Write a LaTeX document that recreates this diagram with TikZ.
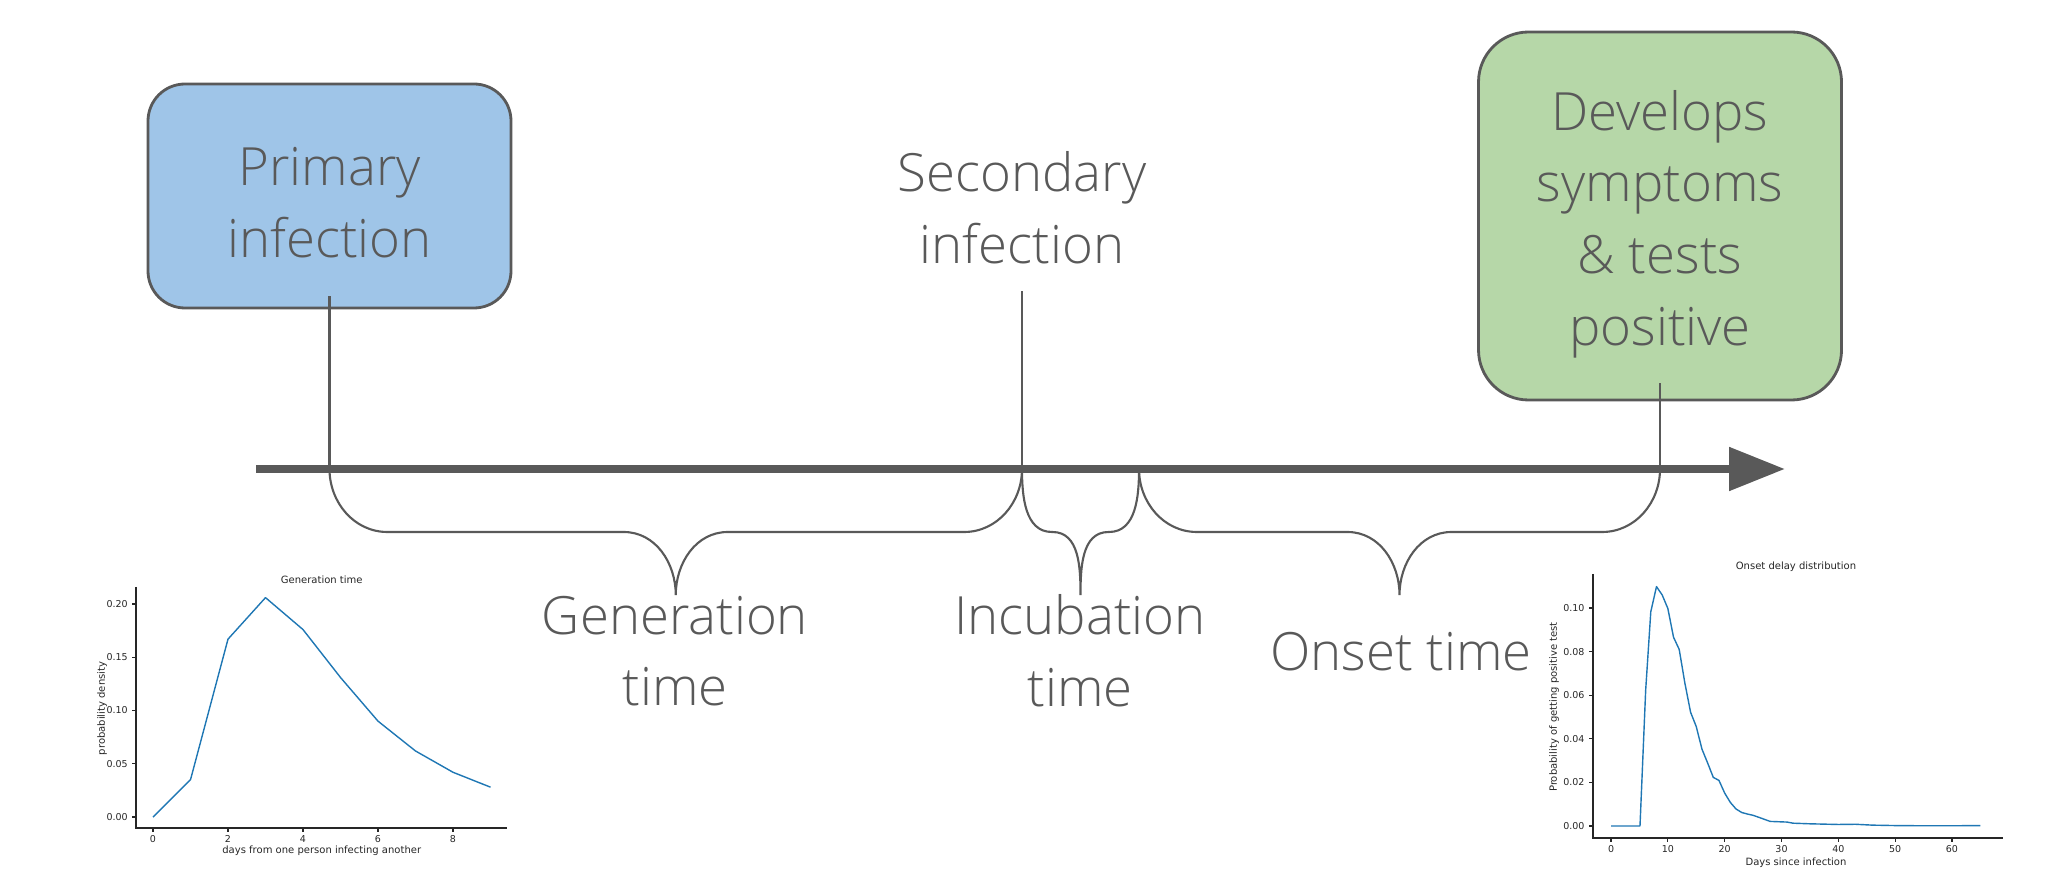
\documentclass[tikz,border=0pt]{standalone}
\usepackage{fontspec}
\IfFontExistsTF{Open Sans Light}{\setmainfont{Open Sans Light}}{\setmainfont{Open Sans}}
\newfontfamily\plotfont{DejaVu Sans}
\usepackage{tikz}
\usetikzlibrary{arrows.meta, positioning, calc}

\definecolor{txtgray}{HTML}{595959}
\definecolor{boxblue}{HTML}{9FC5E8}
\definecolor{boxgreen}{HTML}{B6D7A8}
\definecolor{mplblue}{HTML}{1F77B4}
\definecolor{spinegray}{HTML}{262626}

% curly brace under the time line, tip half way between start and end
\newcommand{\timebrace}[4]{%
  \draw[curly] (#1) to[out=-90,in=180] ($(#1)+(#3,-0.63)$)
    -- ($(#1)!0.5!(#2)+(-#4,-0.63)$) to[out=0,in=90] ($(#1)!0.5!(#2)+(0,-1.26)$)
    to[out=90,in=180] ($(#1)!0.5!(#2)+(#4,-0.63)$)
    -- ($(#2)+(-#3,-0.63)$) to[out=0,in=-90] (#2);
}

\begin{document}
\begin{tikzpicture}[
    big/.style={font=\fontsize{15}{20.4}\selectfont, text=txtgray, align=center, inner sep=0pt},
    event/.style={draw=txtgray, line width=0.8pt, rounded corners=0.37cm, minimum width=3.63cm},
    vline/.style={draw=txtgray, line width=0.6pt},
    curly/.style={draw=txtgray, line width=0.6pt},
    spine/.style={draw=spinegray, line width=0.4pt},
    tickln/.style={draw=spinegray, line width=0.35pt},
    ticklbl/.style={font=\plotfont\fontsize{2.7}{3.2}\selectfont, text=spinegray, inner sep=0pt},
    plotlbl/.style={font=\plotfont\fontsize{2.85}{3.4}\selectfont, text=spinegray, inner sep=0pt},
    densline/.style={draw=mplblue, line width=0.4pt, line join=round},
  ]
  \useasboundingbox (0,0) rectangle (20.62,-8.90);

  % Events
  \node[event, fill=boxblue, minimum height=2.24cm] (prim) at (3.295,-1.96) {};
  \node[big] (primtxt) at ([yshift=-0.07cm]prim.center) {Primary\\infection};
  \node[event, fill=boxgreen, minimum height=3.68cm, rounded corners=0.5cm] (sympt) at (16.60,-2.16) {};
  \node[big] (sympttxt) at ([yshift=-0.08cm]sympt.center) {Develops\\symptoms\\\& tests\\positive};
  \node[big] (sec) at (10.22,-2.075) {Secondary\\infection};

  % Time line
  \coordinate (tstart) at (2.56,-4.69);
  \coordinate (tend) at (17.85,-4.69);
  \coordinate (tprim) at (prim.south |- tstart);
  \coordinate (tsec) at (sec.south |- tstart);
  \coordinate (tinc) at (11.39,-4.69);
  \coordinate (tsympt) at (sympt.south |- tstart);

  % Ticks from the events
  \draw[vline] ([yshift=0.13cm]prim.south) -- (tprim);
  \draw[vline] ([yshift=-0.27cm]sec.south) -- (tsec);
  \draw[vline] ([yshift=0.18cm]sympt.south) -- (tsympt);

  % Braces
  \timebrace{tprim}{tsec}{0.58}{0.52}
  \timebrace{tsec}{tinc}{0.30}{0.28}
  \timebrace{tinc}{tsympt}{0.58}{0.52}

  \draw[txtgray, line width=2.4pt, -{Triangle[length=5.6mm, width=4.2mm]}] (tstart) -- (tend);

  % Period labels
  \node[big] (gen) at (6.75,-6.51) {Generation\\time};
  \node[big] (inc) at (10.80,-6.51) {Incubation\\time};
  \node[big] (ons) at (14.01,-6.52) {Onset time};

  % Generation time plot
  \begin{scope}[shift={(1.53,-8.17)}, x=0.375cm, y=10.65cm]
    \draw[spine] (-0.45,0.216) -- (-0.45,-0.0103) -- (9.44,-0.0103);
    \foreach \i in {0,2,...,8} {
      \draw[tickln] (\i,-0.0103) -- ++(0,-0.0035) node[ticklbl, below=0.03cm] (gx\i) {\i};
    }
    \foreach \v/\l [count=\i] in {0/0.00, 0.05/0.05, 0.1/0.10, 0.15/0.15, 0.2/0.20} {
      \draw[tickln] (-0.45,\v) -- ++(-0.1,0) node[ticklbl, left=0.04cm] (gy\i) {\l};
    }
    \draw[densline] plot coordinates {(0,0) (1,0.035) (2,0.167) (3,0.206) (4,0.176)
      (5,0.131) (6,0.090) (7,0.062) (8,0.042) (9,0.028)};
    \node[plotlbl] (gtitle) at (4.5,0.2225) {Generation time};
    \node[plotlbl] (gxlab) at (4.5,-0.032) {days from one person infecting another};
    \node[plotlbl, rotate=90] (gylab) at (-1.36,0.102) {probability density};
  \end{scope}

  % Onset delay plot
  \begin{scope}[shift={(16.11,-8.26)}, x=0.05683cm, y=21.8cm]
    \draw[spine] (-3.2,0.1156) -- (-3.2,-0.0055) -- (69,-0.0055);
    \foreach \i in {0,10,...,60} {
      \draw[tickln] (\i,-0.0055) -- ++(0,-0.0017) node[ticklbl, below=0.03cm] (ox\i) {\i};
    }
    \foreach \v/\l [count=\i] in {0/0.00, 0.02/0.02, 0.04/0.04, 0.06/0.06, 0.08/0.08, 0.1/0.10} {
      \draw[tickln] (-3.2,\v) -- ++(-0.65,0) node[ticklbl, left=0.04cm] (oy\i) {\l};
    }
    \draw[densline] plot coordinates {(0,0) (5.1,0) (6.1,0.0624) (7,0.0983) (8,0.1098)
      (9,0.106) (10,0.0998) (11,0.0866) (12,0.081) (13,0.0655) (14,0.0522) (15,0.0456)
      (16,0.0353) (17,0.0289) (18,0.0223) (19,0.0209) (20,0.0151) (21,0.0108) (22,0.0078)
      (23,0.0062) (24,0.0055) (25,0.0049) (26,0.004) (28,0.0021) (31,0.0018) (32,0.0013)
      (35,0.001) (40,0.0007) (43,0.0008) (46,0.0004) (50,0.0002) (55,0.0001) (60,0.0001) (65,0.0002)};
    \node[plotlbl] (otitle) at (32.55,0.1188) {Onset delay distribution};
    \node[plotlbl] (oxlab) at (32.55,-0.017) {Days since infection};
    \node[plotlbl, rotate=90] (oylab) at (-10.0,0.0546) {Probability of getting positive test};
  \end{scope}
\end{tikzpicture}
\end{document}
